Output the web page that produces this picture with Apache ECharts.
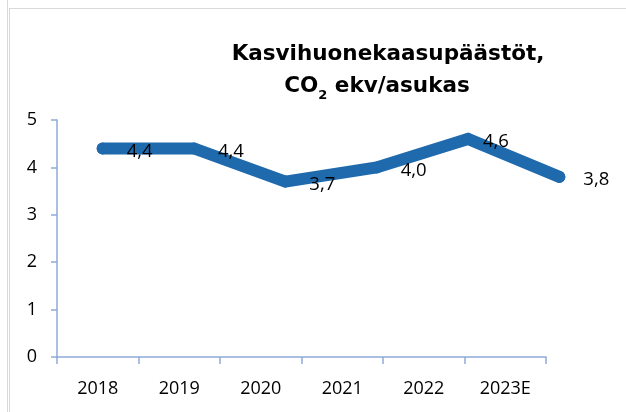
<!DOCTYPE html>
<html><head><meta charset="utf-8">
<script src="https://cdn.jsdelivr.net/npm/echarts@6/dist/echarts.min.js"></script>
<style>html,body{margin:0;padding:0;background:#fff}#c{width:626px;height:412px}</style>
</head><body><div id="c"></div>
<script>
var categories = ['2018','2019','2020','2021','2022','2023E'];
var values = [4.4, 4.4, 3.7, 4.0, 4.6, 3.8];
var valueLabels = ['4,4','4,4','3,7','4,0','4,6','3,8'];
var yTicks = [0,1,2,3,4,5];

var chart = echarts.init(document.getElementById('c'), null, {renderer:'canvas'});
var axisColor = '#8eaad8';
var lineColor = '#1f6aad';
var fam = '"Open Sans", "Liberation Sans", sans-serif';
var tfam = '"DejaVu Sans", sans-serif';

var dataItems = values.map(function(v,i){
  return {value: v, label: {formatter: valueLabels[i], distance: i===4 ? 9 : 18}};
});

chart.setOption({
  animation:false,
  title:{
    left: 383, top: 33, textAlign:'center',
    text:'{a|Kasvihuonekaasupäästöt,}\n{a|CO}{s|2}{a| ekv/asukas}{p|}',
    textStyle:{
      rich:{
        a:{fontFamily:tfam, fontWeight:'bold', fontSize:21.5, color:'#000', lineHeight:32},
        s:{fontFamily:tfam, fontWeight:'bold', fontSize:13, color:'#000', lineHeight:32, verticalAlign:'bottom', padding:[9,0,0,0]},
        p:{width:22, lineHeight:32}
      }
    }
  },
  graphic:[
    {type:'line', shape:{x1:7.5,y1:0,x2:7.5,y2:412}, style:{stroke:'#d9d9d9', lineWidth:1}},
    {type:'line', shape:{x1:9.5,y1:8,x2:9.5,y2:412}, style:{stroke:'#d9d9d9', lineWidth:1}},
    {type:'line', shape:{x1:9.5,y1:8.5,x2:626,y2:8.5}, style:{stroke:'#d9d9d9', lineWidth:1}}
  ],
  grid:[
    {left:57, right:80, top:120, bottom:55},
    {left:57, right:21, top:120, bottom:55}
  ],
  xAxis:[
    {type:'category', gridIndex:0, data:categories, boundaryGap:true,
     axisLine:{lineStyle:{color:axisColor, width:1.5}},
     axisTick:{show:true, length:7, lineStyle:{color:axisColor, width:1.5}},
     axisLabel:{color:'#000', fontFamily:fam, fontSize:18, margin:23}},
    {type:'category', gridIndex:1, data:categories, boundaryGap:true, show:false}
  ],
  yAxis:[
    {type:'value', gridIndex:0, min:0, max:5, interval:1,
     axisLine:{show:true, lineStyle:{color:axisColor, width:1.5}},
     axisTick:{show:true, length:6, lineStyle:{color:axisColor, width:1.5}},
     splitLine:{show:false},
     axisLabel:{color:'#000', fontFamily:fam, fontSize:18, margin:20}},
    {type:'value', gridIndex:1, min:0, max:5, interval:1, show:false, splitLine:{show:false}}
  ],
  series:[{
    type:'line', xAxisIndex:1, yAxisIndex:1, data:dataItems,
    symbol:'circle', symbolSize:12, showSymbol:true,
    itemStyle:{color:lineColor},
    lineStyle:{color:lineColor, width:12, join:'miter', cap:'round'},
    label:{show:true, position:'right', color:'#000', fontFamily:fam, fontSize:18.5, offset:[0,3]}
  }]
});
</script></body></html>
